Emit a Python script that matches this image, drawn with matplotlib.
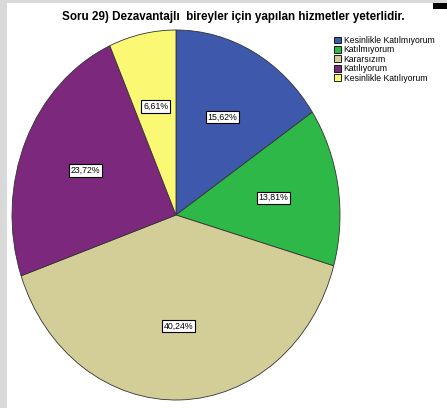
import matplotlib.pyplot as plt
from matplotlib.patches import Rectangle

plt.rcParams["font.family"] = ["Liberation Sans", "DejaVu Sans"]

TITLE = "Soru 29) Dezavantajlı  bireyler için yapılan hizmetler yeterlidir."
categories = ["Kesinlikle Katılmıyorum", "Katılmıyorum", "Kararsızım",
              "Katılıyorum", "Kesinlikle Katılıyorum"]
percents = [15.62, 13.81, 40.24, 23.72, 6.61]
colors = ["#3E58AC", "#2EB848", "#D3CE97", "#7C287D", "#FBF873"]

W, H = 447, 408
fig = plt.figure(figsize=(W / 100, H / 100), dpi=100, facecolor="white")

# grey frame strips and small black mark, as in the screenshot
fig.patches.append(Rectangle((0, 0), 7 / W, 1, transform=fig.transFigure,
                             facecolor="#d9d9d9", edgecolor="none"))
fig.patches.append(Rectangle((0, 1 - 3 / H), 1, 3 / H, transform=fig.transFigure,
                             facecolor="#d9d9d9", edgecolor="none"))
fig.patches.append(Rectangle((433 / W, 1 - 9 / H), 14 / W, 6 / H,
                             transform=fig.transFigure,
                             facecolor="black", edgecolor="none"))

# pie axes: ellipse, taller than wide
left, right, top, bottom = 12, 340, 30, 400
ax = fig.add_axes([left / W, 1 - bottom / H, (right - left) / W, (bottom - top) / H])
wedges, texts, autotexts = ax.pie(
    percents, colors=colors, startangle=90, counterclock=False,
    autopct=lambda p: f"{p:.2f}%".replace(".", ","), pctdistance=0.6,
    wedgeprops=dict(edgecolor="#333333", linewidth=0.6),
    textprops=dict(fontsize=6.3, color="black"),
)
for t in autotexts:
    t.set_bbox(dict(facecolor="white", edgecolor="black", linewidth=0.8,
                    boxstyle="square,pad=0.2"))
ax.set_aspect("auto")
ax.set_xlim(-1, 1)
ax.set_ylim(-1, 1)
ax.axis("off")

fig.text(233 / W, 1 - 17 / H, TITLE, ha="center", va="center",
         fontsize=8.4, fontweight="bold")

leg = fig.legend(wedges, categories, loc="upper left",
                 bbox_to_anchor=(328 / W, 1 - 30 / H), frameon=False,
                 fontsize=6.2, handlelength=0.85, handleheight=0.85,
                 handletextpad=0.25, labelspacing=0.05, borderpad=0.2)
for h in leg.legend_handles:
    h.set_edgecolor("black")
    h.set_linewidth(0.6)

fig.savefig("out.png", dpi=100, facecolor="white")
